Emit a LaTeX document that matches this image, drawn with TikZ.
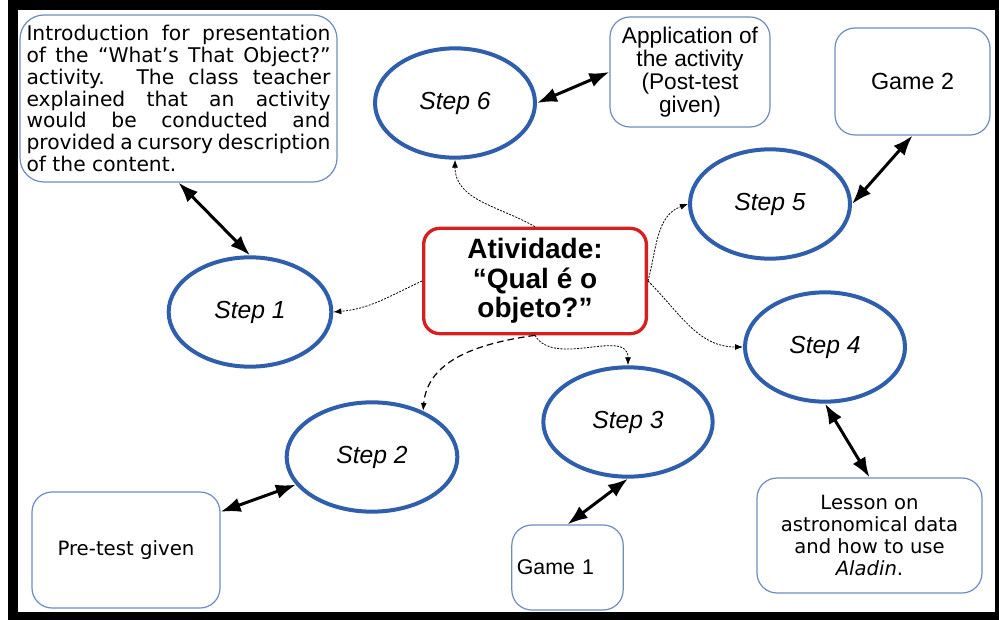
\documentclass[tikz,border=0pt]{standalone}
\usepackage{fontspec}
\setmainfont{Liberation Sans}
\newfontfamily\tahoma{DejaVu Sans}
\usetikzlibrary{positioning,shapes.geometric,arrows.meta}
\definecolor{stepblue}{RGB}{46,94,172}
\definecolor{boxred}{RGB}{212,32,32}
\definecolor{boxline}{RGB}{112,140,188}
\newcommand{\fullline}[1]{\makebox[228pt][s]{#1}}

\begin{document}
\begin{tikzpicture}[x=0.75pt,y=0.75pt,
    stepnode/.style={ellipse,draw=stepblue,line width=3pt,minimum width=120pt,minimum height=82pt,inner sep=0pt,font=\fontsize{18.5}{21}\selectfont\itshape},
    infobox/.style={draw=boxline,line width=0.9pt,rounded corners=15pt,inner sep=0pt,align=center},
    mainbox/.style={draw=boxred,line width=2.5pt,rounded corners=12pt,align=center,minimum width=167pt,minimum height=79pt,font=\fontsize{21}{22}\selectfont\bfseries},
    flow/.style={-{Latex[length=6pt,width=4.5pt]},line width=0.6pt,dash pattern=on 1.5pt off 1pt},
    link/.style={{Latex[length=15pt,width=11pt]}-{Latex[length=15pt,width=11pt]},line width=2.25pt}]
    % frame
    \useasboundingbox (0,0) rectangle (999,-620);
    \fill[white] (0,0) rectangle (999,-620);
    \fill[black] (8,0) rectangle (999,-620);
    \fill[white] (18,-10) rectangle (995,-612);

    % activity in the middle
    \node[mainbox] (act) at (535,-281) {Atividade:\\“Qual é o\\objeto?”};

    % steps
    \node[stepnode] (step6) at (455,-103) {Step 6};
    \node[stepnode,minimum width=122pt] (step1) at (250,-312) {Step 1};
    \node[stepnode] (step5) at (770,-204) {Step 5};
    \node[stepnode] (step4) at (825,-347) {Step 4};
    \node[stepnode,minimum width=128pt] (step2) at (372,-457) {Step 2};
    \node[stepnode,minimum width=127pt] (step3) at (628,-422) {Step 3};

    % what happens in each step
    \node[infobox,align=left,rounded corners=18pt,minimum width=237.75pt,minimum height=125.25pt,font=\tahoma\fontsize{15.2}{16.3}\selectfont] (intro) at (178.5,-98.5)
        {\fullline{Introduction for presentation}\\
         \fullline{of the “What’s That Object?”}\\
         \fullline{activity. The class teacher}\\
         \fullline{explained that an activity}\\
         \fullline{would be conducted and}\\
         \fullline{provided a cursory description}\\
         of the content.};
    \node[infobox,minimum width=120pt,minimum height=82.5pt,font=\fontsize{17}{17.3}\selectfont] (apply) at (690,-72)
        {Application of\\the activity\\(Post-test\\given)};
    \node[infobox,minimum width=116.25pt,minimum height=80.25pt,font=\fontsize{17.5}{19}\selectfont] (game2) at (912.5,-81.5) {Game 2};
    \node[infobox,minimum width=141pt,minimum height=87pt,font=\tahoma\fontsize{14.8}{16}\selectfont] (pretest) at (126,-550) {Pre-test given};
    \node[infobox,align=left,text width=76pt,inner xsep=3.75pt,minimum height=63.75pt,font=\fontsize{16}{18}\selectfont] (game1) at (567.5,-567.5) {Game 1};
    \node[infobox,minimum width=168.75pt,minimum height=86.25pt,font=\tahoma\fontsize{14.7}{16.3}\selectfont] (lesson) at (869.5,-535.5)
        {Lesson on\\astronomical data\\and how to use\\\textit{Aladin}.};

    % from the activity to the steps
    \draw[flow] (act.west) to[out=205,in=5] (step1.east);
    \draw[flow] (act.north) to[out=150,in=-90] (step6.south);
    \draw[flow] (act.east) to[out=75,in=200] (step5.west);
    \draw[flow] (act.east) to[out=-45,in=180] (step4.west);
    \draw[flow] (act.south) to[out=-60,in=90] (step3.north);
    \draw[flow,line width=0.9pt,dash pattern=on 5pt off 3pt] (act.south) to[out=188,in=85] (step2.42);

    % steps and their contents
    \draw[link] (intro.south) -- (step1.north);
    \draw[link] (step6.east) -- (apply.west);
    \draw[link] (step5.east) -- (game2.south);
    \draw[link] (step4.south) -- (lesson.north);
    \draw[link] (step3.south) -- (game1.north);
    \draw[link] (step2.200) -- (pretest.22);
\end{tikzpicture}
\end{document}
